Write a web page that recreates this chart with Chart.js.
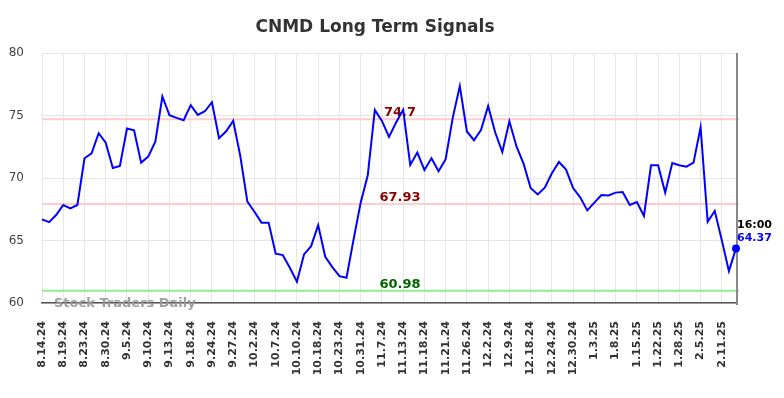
<!DOCTYPE html>
<html>
<head>
<meta charset="utf-8">
<script src="https://cdn.jsdelivr.net/npm/chart.js@4"></script>
<style>
  body { margin: 0; background: #fff; }
  #grafico { display: block; }
</style>
</head>
<body>
<canvas id="grafico" width="784" height="398"></canvas>
<script>
// etiquetas del eje x (una cada 3 sesiones)
const tickLabels = ['8.14.24', '8.19.24', '8.23.24', '8.30.24', '9.5.24', '9.10.24', '9.13.24', '9.18.24',
    '9.24.24', '9.27.24', '10.2.24', '10.7.24', '10.10.24', '10.18.24', '10.23.24', '10.31.24', '11.7.24',
    '11.13.24', '11.18.24', '11.21.24', '11.26.24', '12.2.24', '12.9.24', '12.18.24', '12.24.24', '12.30.24',
    '1.3.25', '1.8.25', '1.15.25', '1.22.25', '1.28.25', '2.5.25', '2.11.25'];

// precio de cierre
const precios = [
    66.69, 66.47, 67.04, 67.84, 67.57, 67.84, 71.58, 71.98, 73.58, 72.83, 70.80, 70.96, 73.96, 73.82, 71.23,
    71.71, 72.91, 76.52, 75.02, 74.81, 74.62, 75.83, 75.05, 75.34, 76.06, 73.18, 73.74, 74.57, 71.76, 68.11,
    67.30, 66.43, 66.43, 63.94, 63.83, 62.82, 61.70, 63.89, 64.55, 66.23, 63.70, 62.87, 62.15, 62.02, 65.09,
    68.03, 70.22, 75.45, 74.57, 73.29, 74.44, 75.45, 71.04, 72.03, 70.64, 71.58, 70.54, 71.50, 74.81, 77.35,
    73.72, 73.02, 73.85, 75.77, 73.64, 72.08, 74.54, 72.52, 71.15, 69.20, 68.69, 69.23, 70.38, 71.28, 70.67,
    69.20, 68.45, 67.41, 68.03, 68.64, 68.61, 68.83, 68.88, 67.84, 68.08, 66.96, 71.02, 71.02, 68.83, 71.20,
    71.02, 70.91, 71.23, 74.06, 66.50, 67.36, 65.01, 62.55, 64.37
];

// niveles de senal
const niveles = [74.7, 67.93, 60.98];
const nivelesLinea = ['#ffcccc', '#ffcccc', '#90ee90'];
const nivelesTexto = ['#8b0000', '#8b0000', '#006400'];

const yTicks = [60, 65, 70, 75, 80];
const horaCierre = '16:00';

const categorias = precios.map((p, i) => i % 3 === 0 ? tickLabels[i / 3] : '');

// dibuja los niveles horizontales detras de la linea
const pluginNiveles = {
    id: 'niveles',
    beforeDatasetsDraw(chart) {
        const { ctx, chartArea, scales } = chart;
        ctx.save();
        niveles.forEach((nivel, k) => {
            const y = scales.y.getPixelForValue(nivel);
            ctx.strokeStyle = nivelesLinea[k];
            ctx.lineWidth = 2;
            ctx.beginPath();
            ctx.moveTo(chartArea.left, y);
            ctx.lineTo(chartArea.right + 3, y);
            ctx.stroke();
            ctx.fillStyle = nivelesTexto[k];
            ctx.font = 'bold 13px "DejaVu Sans"';
            ctx.textAlign = 'center';
            ctx.textBaseline = 'alphabetic';
            ctx.fillText(String(nivel), chartArea.left + 358, y - 3);
        });
        ctx.restore();
    },
    afterDraw(chart) {
        const { ctx, chartArea } = chart;
        ctx.save();
        // titulo
        ctx.fillStyle = '#333';
        ctx.font = 'bold 17px "DejaVu Sans"';
        ctx.textAlign = 'center';
        ctx.fillText('CNMD Long Term Signals', 375, 32);

        // marca de agua
        ctx.fillStyle = 'rgba(150,150,150,0.9)';
        ctx.font = 'bold 13px "DejaVu Sans"';
        ctx.textAlign = 'left';
        ctx.fillText('Stock Traders Daily', chartArea.left + 12, chartArea.bottom + 4);

        // linea vertical del ultimo dato
        const meta = chart.getDatasetMeta(0);
        const ultimo = meta.data[meta.data.length - 1];
        ctx.strokeStyle = '#888';
        ctx.lineWidth = 2;
        ctx.beginPath();
        ctx.moveTo(ultimo.x + 1, chartArea.top);
        ctx.lineTo(ultimo.x + 1, chartArea.bottom + 2);
        ctx.stroke();

        // redibujamos el punto final encima
        ctx.fillStyle = '#0000ff';
        ctx.beginPath();
        ctx.arc(ultimo.x, ultimo.y, 4, 0, Math.PI * 2);
        ctx.fill();

        ctx.font = 'bold 11px "DejaVu Sans"';
        ctx.fillStyle = '#000';
        ctx.fillText(horaCierre, ultimo.x + 1, ultimo.y - 20);
        ctx.fillStyle = '#0000ff';
        ctx.fillText(precios[precios.length - 1].toFixed(2), ultimo.x + 1, ultimo.y - 7);
        ctx.restore();
    }
};

new Chart(document.getElementById('grafico').getContext('2d'), {
    type: 'line',
    data: {
        labels: categorias,
        datasets: [{
            data: precios,
            borderColor: '#0000ff',
            borderWidth: 2,
            pointRadius: 0,
            tension: 0,
            fill: false
        }]
    },
    options: {
        responsive: false,
        animation: false,
        layout: { padding: { top: 53, right: 48, left: 0, bottom: 0 } },
        plugins: {
            legend: { display: false },
            tooltip: { enabled: false }
        },
        scales: {
            x: {
                afterFit(scale) { scale.height = 95; },
                grid: { color: '#e6e6e6', drawTicks: false },
                border: { color: '#555', width: 1.5 },
                ticks: {
                    autoSkip: false,
                    minRotation: 90,
                    maxRotation: 90,
                    padding: 18,
                    color: '#333',
                    font: { family: 'DejaVu Sans', size: 11, weight: 'bold' },
                    callback: (v, i) => i % 3 === 0 ? tickLabels[i / 3] : null
                }
            },
            y: {
                min: 60,
                max: 80,
                afterFit(scale) { scale.width = 42; },
                afterBuildTicks(scale) { scale.ticks = yTicks.map(v => ({ value: v })); },
                grid: { color: '#e6e6e6', drawTicks: false },
                border: { display: false },
                ticks: {
                    padding: 18,
                    color: '#444',
                    font: { family: 'DejaVu Sans', size: 12 }
                }
            }
        }
    },
    plugins: [pluginNiveles]
});
</script>
</body>
</html>
